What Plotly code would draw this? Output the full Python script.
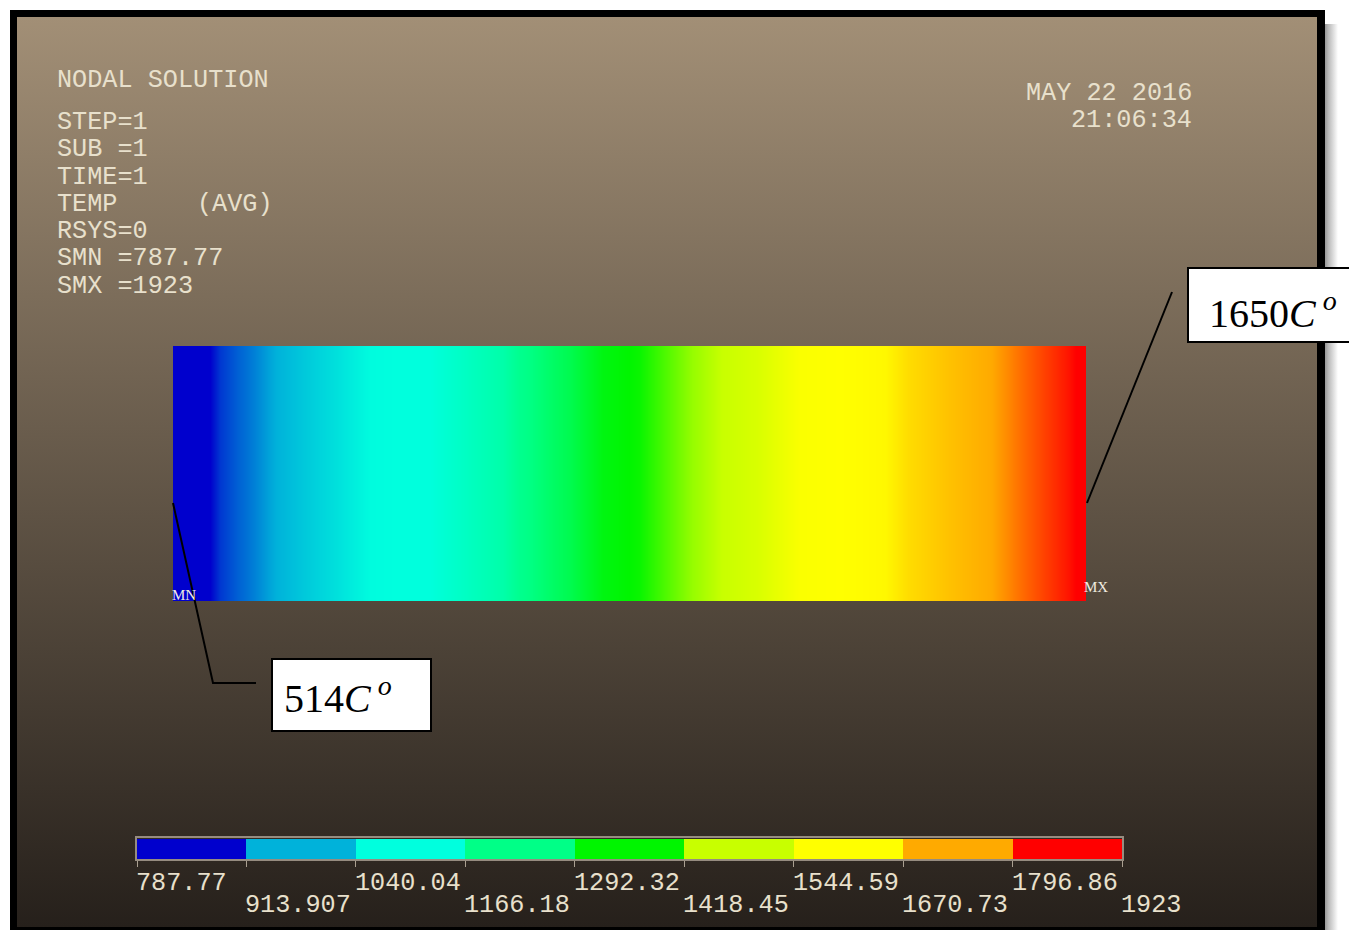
import plotly.graph_objects as go

# ---------------- data ----------------
# temperature along the plate (position as fraction of plate length)
plate_pos = [0.000, 0.041, 0.051, 0.070, 0.088, 0.106, 0.142, 0.180, 0.216, 0.249,
             0.281, 0.325, 0.361, 0.380, 0.416, 0.435, 0.471, 0.512, 0.568, 0.641,
             0.687, 0.742, 0.780, 0.805, 0.851, 0.897, 0.933, 0.980, 1.000]
plate_temp = [800, 851, 890, 918, 940, 968, 1013, 1054, 1098, 1104,
              1106, 1147, 1180, 1220, 1262, 1282, 1340, 1362, 1450, 1520,
              1598, 1610, 1618, 1659, 1700, 1735, 1785, 1845, 1880]

legend_ticks = [787.77, 913.907, 1040.04, 1166.18, 1292.32, 1418.45,
                1544.59, 1670.73, 1796.86, 1923]
legend_labels = ["787.77", "913.907", "1040.04", "1166.18", "1292.32", "1418.45",
                 "1544.59", "1670.73", "1796.86", "1923"]
band_colors = ["rgb(0,0,205)", "rgb(0,178,218)", "rgb(0,255,222)", "rgb(0,255,135)",
               "rgb(0,245,0)", "rgb(200,255,0)", "rgb(255,255,0)", "rgb(255,170,0)",
               "rgb(255,0,0)"]

header_lines = ["STEP=1", "SUB =1", "TIME=1", "TEMP", "RSYS=0", "SMN =787.77", "SMX =1923"]
date_lines = ["MAY 22 2016", "21:06:34"]
callout_min = "514"
callout_max = "1650"

# ---------------- style / layout ----------------
W, H = 1357, 930
OFF = 8            # page body margin offset (screen px)
TXT = "rgb(232,224,204)"
MONO = "Liberation Mono"
SERIF = "Liberation Serif"
FS = 25.2
PLATE = (173, 1086, 346, 601)      # x0, x1, ytop, ybottom (screen px)
LEG = (137, 1122, 839, 859)

zmin, zmax = legend_ticks[0], legend_ticks[-1]
n = len(band_colors)
colorscale = [[0.0, band_colors[0]]]
for i, c in enumerate(band_colors):
    colorscale.append([(i + 0.5) / n, c])
colorscale.append([1.0, band_colors[-1]])

def dom_x(a, b):
    return [(a - OFF) / W, (b - OFF) / W]

def dom_y(top, bottom):
    return [1 - (bottom - OFF) / H, 1 - (top - OFF) / H]

fig = go.Figure()

# right-side drop shadow of the frame
fig.add_trace(go.Scatter(x=[1322, 1338, 1338, 1322, 1322], y=[24, 24, 960, 960, 24],
                         fill="toself", mode="none",
                         fillgradient=dict(type="horizontal",
                                           colorscale=[[0, "rgb(120,120,120)"],
                                                       [0.4, "rgb(185,185,185)"],
                                                       [1, "rgb(255,255,255)"]],
                                           start=1322, stop=1338),
                         hoverinfo="skip", showlegend=False, xaxis="x", yaxis="y"))
# black frame
fig.add_trace(go.Scatter(x=[10, 1325, 1325, 10, 10], y=[10, 10, 960, 960, 10],
                         fill="toself", fillcolor="black", mode="none",
                         hoverinfo="skip", showlegend=False, xaxis="x", yaxis="y"))
# gradient background
fig.add_trace(go.Scatter(x=[17, 1317, 1317, 17, 17], y=[17, 17, 927, 927, 17],
                         fill="toself", mode="none",
                         fillgradient=dict(type="vertical",
                                           colorscale=[[0, "rgb(162,143,118)"],
                                                       [1, "rgb(38,32,27)"]],
                                           start=17, stop=927),
                         hoverinfo="skip", showlegend=False, xaxis="x", yaxis="y"))

# plate temperature field
fig.add_trace(go.Heatmap(x=plate_pos, y=[0, 1], z=[plate_temp, plate_temp],
                         colorscale=colorscale, zmin=zmin, zmax=zmax,
                         zsmooth="best", showscale=False, hoverinfo="skip",
                         xaxis="x2", yaxis="y2"))

# legend bar
mids = [(legend_ticks[i] + legend_ticks[i + 1]) / 2 for i in range(n)]
fig.add_trace(go.Heatmap(x=legend_ticks, y=[0, 1], z=[mids],
                         colorscale=colorscale, zmin=zmin, zmax=zmax,
                         showscale=False, hoverinfo="skip",
                         xaxis="x3", yaxis="y3"))

hidden = dict(showgrid=False, zeroline=False, showticklabels=False, ticks="",
              showline=False)

fig.update_layout(
    width=W, height=H, margin=dict(l=0, r=0, t=0, b=0),
    paper_bgcolor="white", plot_bgcolor="rgba(0,0,0,0)", showlegend=False,
    xaxis=dict(range=[OFF, W + OFF], domain=[0, 1], **hidden),
    yaxis=dict(range=[H + OFF, OFF], domain=[0, 1], **hidden),
    xaxis2=dict(range=[0, 1], domain=dom_x(PLATE[0], PLATE[1]), anchor="y2", **hidden),
    yaxis2=dict(range=[0, 1], domain=dom_y(PLATE[2], PLATE[3]), anchor="x2", **hidden),
    xaxis3=dict(range=[zmin, zmax], domain=dom_x(LEG[0], LEG[1]), anchor="y3",
                showgrid=False, zeroline=False, showticklabels=False, showline=False,
                ticks="outside", ticklen=7, tickwidth=1, tickcolor="rgb(170,160,145)",
                tickvals=legend_ticks),
    yaxis3=dict(range=[0, 1], domain=dom_y(LEG[2], LEG[3]), anchor="x3", **hidden),
)

shapes = []
# legend outline
shapes.append(dict(type="rect", xref="x", yref="y", x0=LEG[0] - 1, x1=LEG[1] + 1,
                   y0=LEG[2] - 2, y1=LEG[3] + 1, line=dict(color="rgb(150,140,128)", width=2),
                   fillcolor="rgba(0,0,0,0)", layer="above"))
# leader lines
shapes.append(dict(type="line", xref="x", yref="y", x0=1172, y0=292, x1=1087, y1=503,
                   line=dict(color="black", width=2), layer="above"))
shapes.append(dict(type="path", xref="x", yref="y", path="M 173 503 L 213 683 L 256 683",
                   line=dict(color="black", width=2), layer="above"))
# callout boxes
shapes.append(dict(type="rect", xref="x", yref="y", x0=1188, x1=1375, y0=268, y1=342,
                   fillcolor="white", line=dict(color="black", width=2), layer="above"))
shapes.append(dict(type="rect", xref="x", yref="y", x0=272, x1=431, y0=659, y1=731,
                   fillcolor="white", line=dict(color="black", width=2), layer="above"))
fig.update_layout(shapes=shapes)

ann = []
def add_text(text, x, y, size, color=TXT, family=MONO, xanchor="left"):
    ann.append(dict(text=text, x=x, y=y, xref="x", yref="y", showarrow=False,
                    xanchor=xanchor, yanchor="middle",
                    font=dict(family=family, size=size, color=color)))

add_text("NODAL SOLUTION", 55, 80, FS)
line_y = [122, 149, 177, 204, 231, 258, 286]
for t, yy in zip(header_lines, line_y):
    add_text(t, 55, yy, FS)
add_text("(AVG)", 195, 204, FS)
add_text(date_lines[0], 1194, 93, FS, xanchor="right")
add_text(date_lines[1], 1194, 120, FS, xanchor="right")

add_text("MN", 170, 595, 15, color="rgb(240,236,225)", family=SERIF)
add_text("MX", 1082, 587, 15, color="rgb(240,236,225)", family=SERIF)

# legend labels (alternating rows)
for i, (v, lab) in enumerate(zip(legend_ticks, legend_labels)):
    ann.append(dict(text=lab, x=v, y=883 if i % 2 == 0 else 905, xref="x3", yref="y",
                    showarrow=False, xanchor="left", yanchor="middle", xshift=-3,
                    font=dict(family=MONO, size=FS, color=TXT)))

# callout texts
add_text(f"{callout_max}<i>C</i><sup><i> o</i></sup>", 1207, 310, 40, color="black", family=SERIF)
add_text(f"{callout_min}<i>C</i><sup><i> o</i></sup>", 282, 695, 40, color="black", family=SERIF)

fig.update_layout(annotations=ann)
fig.write_html("out.html")
